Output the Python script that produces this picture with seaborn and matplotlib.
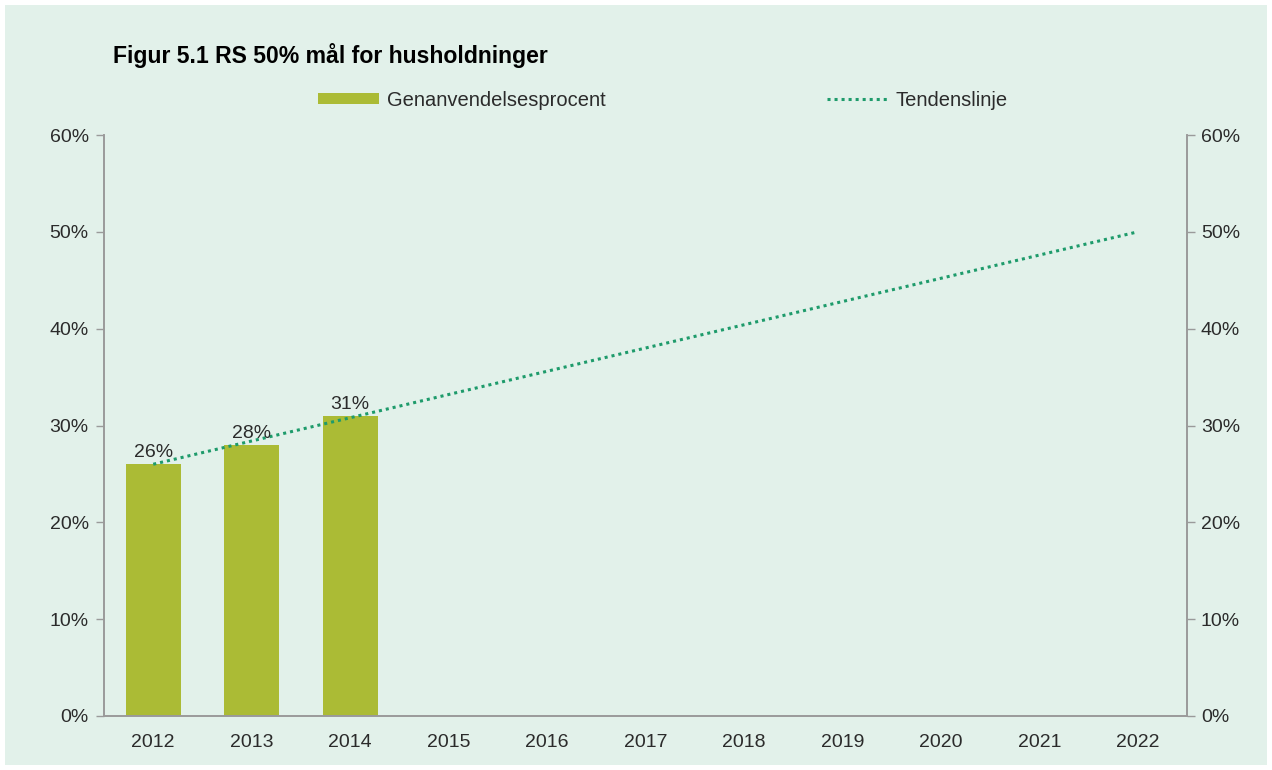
import numpy as np
import pandas as pd
import seaborn as sns
import matplotlib.pyplot as plt
from matplotlib.patches import Rectangle
from matplotlib.ticker import PercentFormatter, FixedLocator

# data
years = ['2012', '2013', '2014', '2015', '2016', '2017', '2018', '2019', '2020', '2021', '2022']
bar_years = ['2012', '2013', '2014']
bar_values = [0.26, 0.28, 0.31]
bar_labels = ['26%', '28%', '31%']
trend_years = ['2012', '2022']
trend_values = [0.26, 0.50]

bg = '#E2F1EA'
bar_color = '#ABBB35'
trend_color = '#1E9B6B'
text_color = '#2B2B2B'
axis_color = '#9A9A9A'

sns.set_theme(style='white')
plt.rcParams['font.family'] = ['Liberation Sans', 'DejaVu Sans']

fig = plt.figure(figsize=(12.72, 7.70), dpi=100)
fig.patch.set_facecolor('white')
fig.patches.append(Rectangle((5 / 1272, 5 / 770), 1 - 10 / 1272, 1 - 10 / 770,
                             transform=fig.transFigure, facecolor=bg, edgecolor='none', zorder=-10))

ax = fig.add_axes([104 / 1272, 1 - 716 / 770, (1187 - 104) / 1272, (716 - 135) / 770])
ax.set_facecolor(bg)

df = pd.DataFrame({'year': bar_years, 'value': bar_values})
sns.barplot(data=df, x='year', y='value', order=years, color=bar_color, width=0.56,
            saturation=1, ax=ax, linewidth=0, edgecolor='none')

pos = [years.index(y) for y in trend_years]
ax.plot(pos, trend_values, linestyle=(0, (1, 1.3)), linewidth=2.2, color=trend_color, zorder=3)

for y, v, lab in zip(bar_years, bar_values, bar_labels):
    ax.text(years.index(y), v + 0.003, lab, ha='center', va='bottom', fontsize=14, color=text_color)

ax.set_xlim(-0.5, len(years) - 0.5)
ax.set_ylim(0, 0.6)
ax.set_yticks(np.arange(0, 0.61, 0.1))
ax.yaxis.set_major_formatter(PercentFormatter(1.0, decimals=0))
ax.set_xlabel('')
ax.set_ylabel('')

# category boundary ticks on x
ax.xaxis.set_minor_locator(FixedLocator(np.arange(-0.5, len(years), 1)))
ax.tick_params(axis='x', which='major', length=0, labelsize=14, labelcolor=text_color, pad=13)
ax.tick_params(axis='x', which='minor', length=6, width=1, color=axis_color, direction='out')
ax.tick_params(axis='y', which='major', length=6, width=1, color=axis_color, direction='out',
               labelsize=14, labelcolor=text_color, left=True, pad=5)

for s in ['left', 'bottom', 'right']:
    ax.spines[s].set_color(axis_color)
    ax.spines[s].set_linewidth(1.2)
ax.spines['top'].set_visible(False)

ax2 = ax.twinx()
ax2.set_ylim(0, 0.6)
ax2.set_yticks(np.arange(0, 0.61, 0.1))
ax2.yaxis.set_major_formatter(PercentFormatter(1.0, decimals=0))
ax2.tick_params(axis='y', length=6, width=1, color=axis_color, direction='out',
                labelsize=14, labelcolor=text_color, right=True, pad=4)
for s in ['left', 'bottom', 'right']:
    ax2.spines[s].set_color(axis_color)
    ax2.spines[s].set_linewidth(1.2)
ax2.spines['top'].set_visible(False)

fig.text(113 / 1272, 1 - 56 / 770, 'Figur 5.1 RS 50% mål for husholdninger', fontsize=16.6,
         fontweight='bold', color='black', ha='left', va='center')

bar_handle = Rectangle((0, 0), 1, 1, facecolor=bar_color, edgecolor='none')
line_handle = plt.Line2D([], [], linestyle=(0, (1, 1.3)), linewidth=2.2, color=trend_color)
fig.legend([bar_handle, line_handle], ['Genanvendelsesprocent', 'Tendenslinje'],
           loc='center left', bbox_to_anchor=(300 / 1272, 1 - 100 / 770), ncol=2,
           frameon=False, fontsize=14.5, handlelength=3.0, handleheight=0.5, columnspacing=11.0,
           handletextpad=0.4, labelcolor=text_color)

fig.savefig('out.png', dpi=100, facecolor=fig.get_facecolor())
